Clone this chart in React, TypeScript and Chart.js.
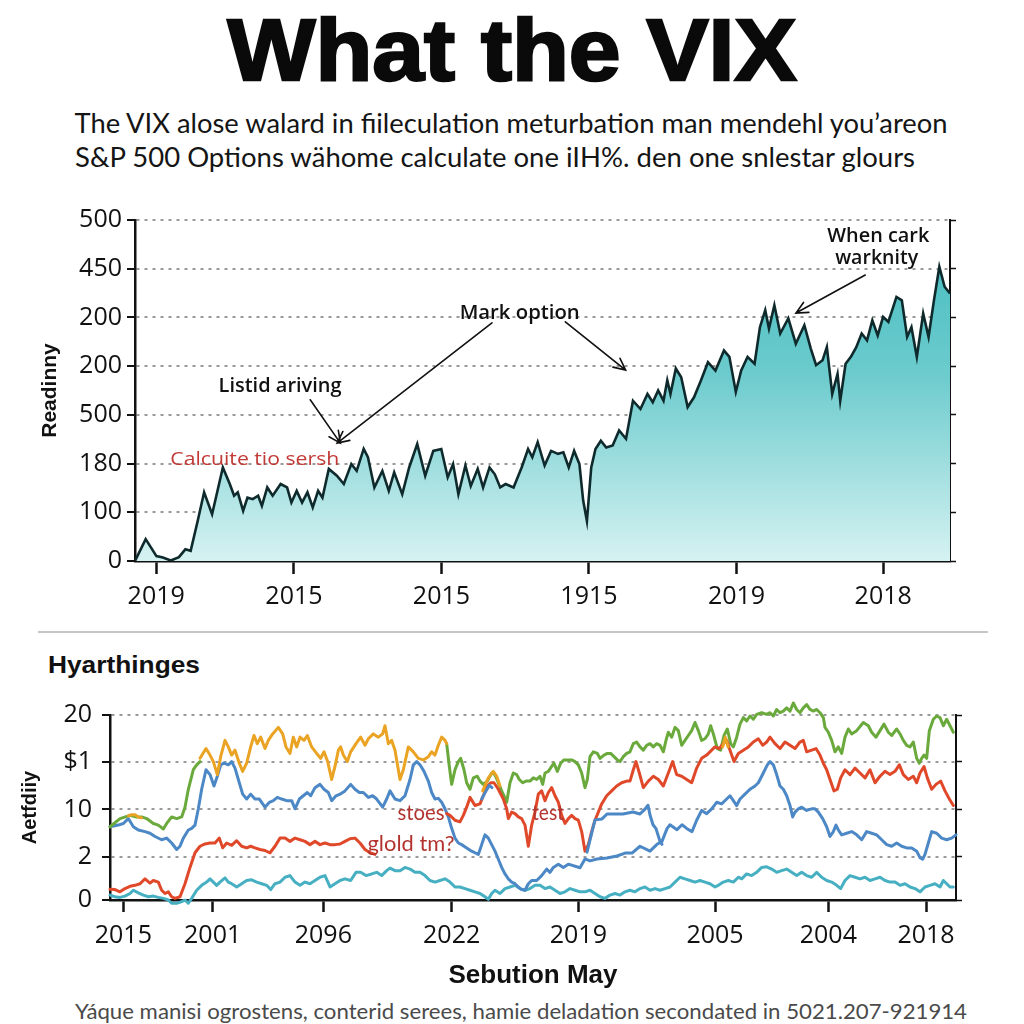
import React, { useEffect, useRef } from "react";
import { Chart, registerables } from "chart.js";

Chart.register(...registerables);

type Pt = [number, number | null];

// ---------------- Top chart (VIX area) ----------------
const vixTime = [
  0, 1.31, 2.63, 3.42, 4.4, 5.39, 6.18, 6.83, 7.69, 8.48,
  9.46, 10.78, 11.63, 12.16, 12.61, 13.27, 13.8, 14.45, 15.11, 15.57,
  16.23, 16.89, 17.87, 18.66, 19.19, 19.84, 20.5, 21.16, 21.81, 22.47,
  23.0, 23.78, 24.77, 25.62, 26.54, 27.2, 28.06, 28.58, 29.37, 30.35,
  31.14, 31.8, 32.79, 33.64, 34.63, 35.61, 36.6, 37.58, 38.37, 39.03,
  39.68, 40.54, 41.2, 42.05, 42.71, 43.5, 44.15, 44.81, 45.47, 46.45,
  47.44, 48.23, 48.75, 49.41, 50.26, 51.05, 51.91, 52.56, 53.22, 53.88,
  54.53, 54.99, 55.45, 55.98, 56.5, 57.16, 57.82, 58.61, 59.4, 60.25,
  61.1, 62.02, 62.88, 63.53, 64.19, 64.85, 65.31, 65.7, 66.36, 67.02,
  67.81, 68.59, 69.45, 70.3, 71.22, 72.27, 72.93, 73.72, 74.38, 75.16,
  76.02, 76.68, 77.33, 77.79, 78.45, 79.17, 80.16, 81.08, 82.13, 82.92,
  83.57, 84.36, 84.89, 85.55, 86.2, 86.53, 87.19, 87.84, 88.5, 89.16,
  89.82, 90.47, 91.13, 91.79, 92.44, 93.43, 94.09, 94.74, 95.27, 95.93,
  96.71, 97.37, 98.03, 98.69, 99.34, 100,
];
const vixLevel = [
  0, 0.45, 0.1, 0.07, 0.01, 0.08, 0.24, 0.21, 0.82, 1.41,
  0.96, 1.92, 1.58, 1.34, 1.41, 1.03, 1.3, 1.27, 1.34, 1.13,
  1.51, 1.34, 1.58, 1.51, 1.2, 1.44, 1.2, 1.41, 1.1, 1.44,
  1.3, 1.89, 1.75, 1.58, 1.99, 1.85, 2.3, 2.13, 1.51, 1.85,
  1.44, 1.82, 1.37, 1.92, 2.4, 1.75, 2.26, 2.3, 1.72, 1.99,
  1.37, 1.96, 1.54, 1.89, 1.51, 1.92, 1.78, 1.51, 1.58, 1.51,
  1.92, 2.3, 2.13, 2.44, 1.96, 2.26, 2.2, 2.23, 1.92, 2.26,
  1.99, 1.24, 0.82, 1.92, 2.3, 2.47, 2.33, 2.37, 2.68, 2.51,
  3.29, 3.12, 3.43, 3.26, 3.5, 3.29, 3.71, 3.43, 3.95, 3.77,
  3.16, 3.36, 3.71, 4.08, 3.91, 4.32, 4.19, 3.47, 3.91, 4.19,
  4.05, 4.8, 5.15, 4.77, 5.25, 4.67, 4.98, 4.46, 4.84, 4.36,
  4.02, 4.12, 4.39, 3.43, 3.84, 3.29, 4.05, 4.19, 4.39, 4.67,
  4.53, 4.94, 4.63, 5.01, 4.91, 5.42, 5.35, 4.6, 4.8, 4.19,
  5.08, 4.6, 5.35, 6.04, 5.63, 5.49,
];
const topXTickValues = [2.6, 19.5, 37.6, 55.7, 73.8, 91.8];
const topXTickLabels = ["2019", "2015", "2015", "1915", "2019", "2018"];
const topYTickValues = [0, 1, 2, 3, 4, 5, 6, 7];
const topYTickLabels = ["0", "100", "180", "500", "200", "200", "450", "500"];

const topNotes = [
  { text: "When cark", x: 91.2, y: 6.55, w: 102, kind: "dark" },
  { text: "warknity", x: 91.0, y: 6.1, w: 83, kind: "dark" },
  { text: "Mark option", x: 47.2, y: 4.97, w: 120, kind: "dark" },
  { text: "Listid ariving", x: 17.8, y: 3.47, w: 123, kind: "dark" },
  { text: "Calcuite tio sersh", x: 14.7, y: 1.97, w: 169, kind: "red" },
];
const topArrows = [
  { from: [89.6, 5.87], to: [81.1, 5.09] },
  { from: [43.8, 4.89], to: [24.8, 2.42] },
  { from: [52.8, 4.91], to: [60.2, 3.92] },
  { from: [21.5, 3.31], to: [25.2, 2.42] },
];

// ---------------- Bottom chart (multi-line) ----------------
const greenLine: Pt[] = [
  [330, 225], [360, 250], [390, 260], [410, 255], [425, 255], [440, 250], [460, 235], [475, 230], [490, 218], [500, 235],
  [515, 255], [530, 250], [545, 255], [555, 285], [565, 340], [580, 400], [590, 415], [600, 425], [610, null],
  [1340, 480], [1348, 410], [1355, 355], [1365, 400], [1375, 425], [1382, 435], [1392, 400], [1400, 360], [1410, 340], [1420, 375],
  [1432, 380], [1440, 365], [1450, 355], [1462, 365], [1475, 390], [1485, 385], [1495, 360], [1505, 335], [1512, 320], [1520, 300],
  [1530, 360], [1540, 390], [1550, 385], [1558, 370], [1568, 360], [1578, 365], [1590, 365], [1600, 375], [1610, 370], [1620, 380],
  [1628, 355], [1635, 390], [1645, 395], [1655, 410], [1662, 420], [1672, 395], [1682, 420], [1692, 430], [1705, 430], [1715, 430],
  [1725, 425], [1735, 415], [1745, 390], [1755, 345], [1762, 370], [1770, 440], [1780, 455], [1792, 450], [1800, 435], [1812, 445],
  [1822, 450], [1832, 450], [1842, 440], [1852, 430], [1860, 425], [1870, 440], [1880, 450],
  [1890, 455], [1900, 480], [1910, 485], [1920, 470], [1930, 460], [1940, 475], [1950, 480], [1960, 470], [1970, 480], [1980, 475],
  [1990, 455], [1998, 490], [2005, 515], [2015, 500], [2025, 530], [2035, 520], [2045, 475], [2055, 490], [2065, 505], [2075, 520],
  [2085, 545], [2095, 520], [2105, 490], [2115, 495], [2125, 510], [2132, 535], [2140, 510], [2152, 465], [2162, 460], [2172, 505],
  [2182, 525], [2192, 480], [2200, 470], [2210, 500], [2220, 540], [2230, 560], [2240, 550], [2250, 565], [2260, 555], [2270, 570],
  [2285, 575], [2300, 570], [2310, 575], [2320, 565], [2330, 585], [2340, 575], [2350, 580], [2360, 590], [2370, 580], [2380, 605],
  [2390, 585], [2400, 575], [2410, 590], [2420, 600], [2430, 585], [2440, 580], [2450, 585], [2460, 575], [2470, 560], [2475, 530],
  [2485, 515], [2495, 490], [2505, 455], [2515, 470], [2525, 450], [2535, 500], [2545, 525], [2555, 510], [2570, 520], [2590, 545],
  [2605, 535], [2615, 515], [2628, 500], [2640, 520], [2652, 540], [2665, 515], [2675, 505], [2690, 525], [2700, 510], [2710, 490],
  [2720, 475], [2730, 470], [2740, 485], [2750, 435], [2758, 420], [2765, 435], [2772, 445], [2780, 435], [2788, 520], [2800, 555],
  [2810, 565], [2820, 560], [2830, 535], [2840, 555], [2850, 535], [2860, 515],
];
const orangeLine: Pt[] = [
  [385, 258], [395, 262], [405, 262], [415, 255], [425, 252], [432, null],
  [600, 435], [618, 465], [630, 445], [640, 425], [652, 385], [662, 440], [675, 490], [685, 470], [695, 445], [705, 460],
  [718, 420], [728, 395], [740, 420], [752, 470], [762, 505], [772, 480], [782, 500], [795, 465], [805, 490], [818, 510],
  [835, 530], [848, 510], [858, 470], [870, 450], [880, 500], [890, 470], [900, 500], [912, 490], [922, 505], [935, 470],
  [950, 450], [962, 435], [972, 455], [983, 425], [995, 370], [1005, 410], [1015, 460], [1022, 470], [1030, 445], [1042, 425],
  [1052, 455], [1068, 480], [1082, 500], [1095, 475], [1105, 495], [1120, 510], [1135, 500], [1148, 510], [1155, 535], [1165, 480],
  [1175, 490], [1185, 460], [1195, 400], [1200, 370], [1210, 400], [1225, 470], [1240, 455], [1255, 435], [1270, 430], [1285, 440],
  [1295, 455], [1305, 445], [1315, 475], [1325, 500], [1335, 490], [1340, 480], [1345, null],
  [1448, 335], [1465, 375], [1480, 395], [1490, 380], [1500, 350], [1505, null],
  [2168, 470], [2176, 500], [2184, 470],
];
const blueLine: Pt[] = [
  [330, 225], [355, 230], [370, 235], [385, 250], [400, 225], [415, 215], [435, 210], [450, 205], [465, 195], [485, 185],
  [500, 190], [515, 175], [530, 155], [540, 165], [550, 190], [565, 215], [575, 220], [585, 230], [595, 280], [605, 340],
  [618, 400], [630, 385], [642, 350], [652, 380], [662, 415], [672, 420], [685, 415], [695, 425], [705, 405], [715, 370],
  [728, 325], [740, 310], [752, 325], [765, 310], [778, 310], [795, 285], [808, 300], [820, 305], [832, 315], [845, 310],
  [860, 305], [875, 305], [885, 280], [898, 310], [910, 320], [922, 330], [932, 320], [945, 345], [960, 355], [972, 340],
  [985, 330], [995, 305], [1008, 320], [1020, 325], [1035, 335], [1052, 355], [1065, 340], [1078, 330], [1090, 330], [1105, 315],
  [1118, 320], [1130, 310], [1148, 285], [1160, 310], [1170, 335], [1185, 310], [1200, 305], [1215, 320], [1230, 370], [1240, 415],
  [1250, 425], [1260, 415], [1272, 395], [1285, 365], [1295, 330], [1305, 310], [1315, 312], [1325, 300], [1335, 280], [1345, 255],
  [1355, 220], [1365, 190], [1375, 175], [1385, 170], [1400, 160], [1415, 150], [1425, 145], [1435, 140], [1445, 170], [1455, 200],
  [1465, 190], [1475, 170], [1485, 150], [1495, 125], [1505, 100], [1515, 80], [1525, 65], [1535, 55], [1545, 50], [1555, 40],
  [1565, 32], [1575, 30], [1585, 50], [1595, 60], [1610, 60], [1625, 75], [1640, 95], [1650, 85], [1660, 100], [1675, 110],
  [1690, 100], [1705, 110], [1740, 99], [1755, 126], [1770, 120], [1791, 126], [1821, 129], [1851, 135], [1875, 144], [1896, 144],
  [1920, 165], [1950, 150], [1971, 171], [1986, 180], [2001, 219], [2010, 231], [2031, 216], [2046, 231], [2061, 219], [2076, 210],
  [2090, 245], [2105, 275], [2120, 265], [2135, 280], [2150, 300], [2165, 295], [2180, 310], [2190, 320], [2200, 305], [2210, 290],
  [2220, 310], [2235, 325], [2250, 340], [2265, 350], [2275, 360], [2290, 390], [2302, 415], [2310, 425], [2320, 415], [2330, 385],
  [2340, 350], [2350, 340], [2360, 320], [2370, 290], [2378, 255], [2385, 270], [2395, 280], [2405, 285], [2420, 275], [2435, 280],
  [2445, 280], [2455, 270], [2468, 250], [2480, 225], [2490, 195], [2500, 210], [2508, 230], [2515, 215], [2525, 200], [2540, 205],
  [2555, 210], [2570, 200], [2585, 185], [2600, 210], [2615, 205], [2630, 200], [2645, 185], [2660, 170], [2675, 165], [2690, 175],
  [2705, 165], [2720, 160], [2735, 160], [2750, 150], [2760, 130], [2768, 125], [2775, 140], [2785, 175], [2795, 210], [2810, 205],
  [2825, 190], [2840, 185], [2855, 190], [2868, 200],
];
const blueForkLine: Pt[] = [
  [1445, 310], [1458, 335], [1468, 352], [1476, 345], [1480, null],
  [1761, 147], [1785, 246], [1806, 249], [1821, 264], [1839, 264], [1869, 264], [1899, 270], [1920, 264], [1935, 279], [1944, 291],
  [1950, 261], [1959, 231], [1968, 219], [1980, 180], [1986, 171],
];
const redLine: Pt[] = [
  [330, 33], [345, 32], [360, 25], [375, 35], [390, 42], [405, 45], [420, 50], [435, 65], [450, 52], [460, 60],
  [475, 55], [485, 30], [495, 20], [505, 25], [515, 10], [525, 5], [540, 10], [555, 50], [570, 100], [585, 145],
  [600, 165], [615, 172], [630, 175], [645, 175], [658, 190], [668, 160], [680, 175], [695, 168], [710, 182], [725, 165],
  [740, 160], [752, 165], [765, 160], [780, 155], [795, 152], [810, 145], [825, 165], [840, 190], [855, 190], [870, 180],
  [885, 190], [900, 185], [915, 180], [930, 170], [945, 180], [960, 170], [975, 175], [990, 170], [1005, 170], [1020, 172],
  [1035, 180], [1050, 188], [1065, 190], [1080, 175], [1095, 155], [1110, 145], [1125, 140], [1130, null],
  [1340, 265], [1350, 260], [1365, 245], [1380, 240], [1390, 260], [1400, 285], [1410, 315], [1425, 290], [1440, 295], [1450, 320],
  [1462, 350], [1472, 360], [1482, 360], [1492, 345], [1500, 330], [1510, 310], [1520, 280], [1525, 250], [1535, 270], [1545, 265],
  [1555, 255], [1565, 250], [1575, 230], [1585, 165], [1595, 230], [1605, 270], [1615, 325], [1625, 335], [1635, 305], [1645, 330],
  [1655, 345], [1665, 320], [1675, 300], [1685, 260], [1695, 235], [1705, 250], [1715, 260], [1725, 250], [1735, 245], [1745, 210],
  [1755, 150], [1765, 170], [1775, 210], [1785, 245], [1795, 270], [1805, 295], [1820, 320], [1835, 335], [1850, 350], [1865, 360],
  [1880, 365], [1890, 365], [1900, 400], [1908, 425], [1918, 390], [1930, 345], [1945, 365], [1960, 380], [1975, 370], [1990, 350],
  [2005, 390], [2018, 425], [2030, 385], [2045, 380], [2060, 370], [2075, 360], [2090, 405], [2105, 435], [2120, 445], [2135, 460],
  [2145, 470], [2158, 465], [2170, 480], [2180, 490], [2190, 460], [2202, 425], [2215, 450], [2230, 460], [2245, 470], [2260, 485],
  [2275, 495], [2288, 475], [2300, 485], [2310, 500], [2325, 480], [2340, 465], [2355, 485], [2370, 475], [2385, 465], [2400, 485],
  [2410, 490], [2420, 455], [2435, 460], [2448, 465], [2460, 445], [2470, 420], [2480, 400], [2490, 370], [2502, 335], [2512, 340],
  [2522, 375], [2535, 400], [2550, 385], [2565, 405], [2580, 390], [2595, 375], [2610, 400], [2625, 360], [2640, 380], [2655, 395],
  [2670, 385], [2685, 395], [2698, 415], [2710, 385], [2725, 370], [2740, 380], [2750, 360], [2760, 390], [2772, 410], [2782, 375],
  [2795, 340], [2808, 355], [2822, 365], [2835, 335], [2848, 310], [2860, 290],
];
const cyanLine: Pt[] = [
  [330, 15], [345, 10], [360, 8], [375, 12], [390, 20], [400, 30], [415, 22], [430, 15], [445, 10], [460, 12],
  [475, 8], [490, 5], [505, 0], [515, -10], [530, -10], [545, -5], [555, 0], [565, -10], [575, 5], [590, 30],
  [605, 45], [620, 55], [630, 65], [640, 55], [650, 45], [660, 55], [675, 68], [685, 55], [695, 50], [710, 40],
  [725, 50], [740, 60], [755, 62], [770, 55], [785, 50], [800, 45], [812, 32], [825, 50], [840, 55], [855, 70],
  [870, 75], [885, 55], [900, 45], [915, 55], [930, 50], [945, 60], [960, 70], [975, 75], [990, 40], [1005, 50],
  [1020, 60], [1035, 65], [1052, 60], [1068, 85], [1082, 85], [1098, 75], [1115, 80], [1130, 85], [1145, 75], [1160, 90],
  [1170, 98], [1185, 90], [1200, 90], [1215, 100], [1230, 95], [1245, 85], [1260, 85], [1275, 75], [1290, 60], [1305, 55],
  [1320, 60], [1335, 65], [1350, 55], [1365, 40], [1380, 40], [1395, 35], [1410, 30], [1425, 25], [1440, 20], [1455, 10],
  [1465, 2], [1475, 20], [1485, 30], [1500, 20], [1515, 35], [1530, 40], [1545, 45], [1560, 35], [1575, 30], [1590, 35],
  [1605, 45], [1620, 45], [1635, 35], [1650, 40], [1665, 30], [1680, 20], [1695, 25], [1710, 35], [1725, 30], [1740, 25],
  [1755, 25], [1770, 30], [1785, 20], [1800, 10], [1815, 5], [1830, 15], [1845, 20], [1860, 15], [1875, 25], [1890, 30],
  [1905, 25], [1920, 35], [1935, 40], [1950, 30], [1965, 35], [1980, 30], [1995, 35], [2010, 40], [2025, 55], [2040, 70],
  [2055, 65], [2070, 60], [2085, 55], [2100, 60], [2115, 55], [2130, 50], [2145, 40], [2155, 45], [2170, 55], [2185, 60],
  [2200, 55], [2215, 70], [2225, 65], [2240, 80], [2255, 75], [2270, 85], [2285, 100], [2300, 102], [2315, 95], [2330, 85],
  [2345, 90], [2360, 95], [2375, 85], [2390, 75], [2405, 85], [2420, 75], [2435, 70], [2450, 85], [2465, 70], [2480, 60],
  [2495, 55], [2510, 45], [2522, 35], [2535, 60], [2550, 75], [2565, 70], [2580, 65], [2595, 70], [2610, 60], [2625, 65],
  [2640, 70], [2655, 60], [2670, 55], [2685, 55], [2700, 45], [2715, 50], [2730, 40], [2745, 35], [2760, 25], [2775, 40],
  [2790, 45], [2805, 50], [2820, 40], [2830, 60], [2840, 50], [2850, 40], [2860, 40],
];
const bottomXTickValues = [370, 638, 970, 1355, 1735, 2145, 2485, 2778];
const bottomXTickLabels = ["2015", "2001", "2096", "2022", "2019", "2005", "2004", "2018"];
const bottomYTickValues = [0, 133, 278, 425, 568];
const bottomYTickLabels = ["0", "2", "10", "$1", "20"];
const bottomNotes = [
  { text: "stoes", x: 1263, y: 246, w: 47 },
  { text: "test", x: 1644, y: 246, w: 32 },
  { text: "glold tm?", x: 1233, y: 150, w: 87 },
];

// ---------------- helpers ----------------
function drawFitText(ctx: CanvasRenderingContext2D, text: string, x: number, y: number, width: number, font: string, color: string) {
  ctx.save();
  ctx.font = font;
  ctx.fillStyle = color;
  ctx.textAlign = "center";
  ctx.textBaseline = "alphabetic";
  const w = ctx.measureText(text).width || 1;
  ctx.translate(x, y);
  ctx.scale(width / w, 1);
  ctx.fillText(text, 0, 0);
  ctx.restore();
}

function drawArrow(ctx: CanvasRenderingContext2D, x1: number, y1: number, x2: number, y2: number) {
  const ang = Math.atan2(y2 - y1, x2 - x1);
  const head = 13;
  const spread = 0.45;
  ctx.save();
  ctx.strokeStyle = "#111";
  ctx.lineWidth = 1.6;
  ctx.lineCap = "round";
  ctx.beginPath();
  ctx.moveTo(x1, y1);
  ctx.lineTo(x2, y2);
  ctx.moveTo(x2 - head * Math.cos(ang - spread), y2 - head * Math.sin(ang - spread));
  ctx.lineTo(x2, y2);
  ctx.lineTo(x2 - head * Math.cos(ang + spread), y2 - head * Math.sin(ang + spread));
  ctx.stroke();
  ctx.restore();
}

const toXY = (pts: Pt[]) => pts.map(([x, y]) => ({ x, y }));

const TICK_FONT = { family: "'Open Sans', 'DejaVu Sans', sans-serif", size: 25, weight: "500" };
const INK = "#111111";
const GRID = "#9a9a9a";

function TopChart() {
  const ref = useRef<HTMLCanvasElement>(null);
  useEffect(() => {
    if (!ref.current) return;
    const notesPlugin = {
      id: "topNotes",
      afterDatasetsDraw(chart: any) {
        const { ctx, scales } = chart;
        const sx = scales.x, sy = scales.y;
        topArrows.forEach((a) => {
          drawArrow(ctx, sx.getPixelForValue(a.from[0]), sy.getPixelForValue(a.from[1]), sx.getPixelForValue(a.to[0]), sy.getPixelForValue(a.to[1]));
        });
        topNotes.forEach((n) => {
          const red = n.kind === "red";
          drawFitText(
            ctx, n.text, sx.getPixelForValue(n.x), sy.getPixelForValue(n.y), n.w,
            red ? "400 19px 'Open Sans'" : "600 19px 'Open Sans'",
            red ? "#c23a36" : "#111"
          );
        });
      },
    };
    const chart = new Chart(ref.current, {
      type: "line",
      data: {
        datasets: [
          {
            data: vixTime.map((t, i) => ({ x: t, y: vixLevel[i] })),
            borderColor: "#0f2a2c",
            borderWidth: 2.6,
            pointRadius: 0,
            tension: 0,
            fill: "origin",
            backgroundColor: (c: any) => {
              const area = c.chart.chartArea;
              if (!area) return "#7fd0d2";
              const g = c.chart.ctx.createLinearGradient(0, area.top, 0, area.bottom);
              g.addColorStop(0, "#42bbbf");
              g.addColorStop(0.45, "#6ccbcd");
              g.addColorStop(1, "#d6f2f2");
              return g;
            },
          },
        ],
      },
      options: {
        animation: false,
        responsive: false,
        maintainAspectRatio: false,
        layout: { padding: { left: 38, right: 66, top: 20, bottom: 0 } },
        plugins: { legend: { display: false }, tooltip: { enabled: false } },
        scales: {
          x: {
            type: "linear",
            min: 0,
            max: 100,
            afterBuildTicks: (s: any) => { s.ticks = topXTickValues.map((v) => ({ value: v })); },
            afterFit: (s: any) => { s.height = 59; },
            ticks: {
              autoSkip: false, maxRotation: 0, padding: 8, color: INK, font: TICK_FONT,
              callback: (_v: any, i: number) => topXTickLabels[i],
            },
            grid: { drawOnChartArea: false, drawTicks: true, tickLength: 13, tickColor: INK, tickWidth: 2.5 },
            border: { display: true, color: INK, width: 2.5 },
          },
          y: {
            type: "linear",
            min: 0,
            max: 7,
            afterBuildTicks: (s: any) => { s.ticks = topYTickValues.map((v) => ({ value: v })); },
            afterFit: (s: any) => { s.width = 97; },
            ticks: {
              autoSkip: false, padding: 5, color: INK, font: TICK_FONT,
              callback: (_v: any, i: number) => topYTickLabels[i],
            },
            grid: { color: GRID, lineWidth: 2, tickLength: 8, tickColor: INK, tickWidth: 2, tickBorderDash: [] },
            border: { display: true, color: INK, width: 2.5, dash: [3, 5] },
            title: {
              display: true, text: "Readinny", color: INK, padding: 0,
              font: { family: "'Liberation Sans', Arial, sans-serif", size: 21, weight: "bold" },
            },
          },
          y2: {
            type: "linear",
            position: "right",
            min: 0,
            max: 7,
            afterBuildTicks: (s: any) => { s.ticks = topYTickValues.map((v) => ({ value: v })); },
            afterFit: (s: any) => { s.width = 8; },
            ticks: { display: false },
            grid: { drawOnChartArea: false, tickLength: 6, tickColor: INK, tickWidth: 1.5 },
            border: { display: true, color: INK, width: 2 },
          },
        },
      } as any,
      plugins: [notesPlugin],
    });
    return () => chart.destroy();
  }, []);
  return <canvas ref={ref} width={1024} height={420} style={{ position: "absolute", left: 0, top: 200, width: 1024, height: 420 }} />;
}

function BottomChart() {
  const ref = useRef<HTMLCanvasElement>(null);
  useEffect(() => {
    if (!ref.current) return;
    const notesPlugin = {
      id: "bottomNotes",
      afterDatasetsDraw(chart: any) {
        const { ctx, scales } = chart;
        bottomNotes.forEach((n) => {
          drawFitText(ctx, n.text, scales.x.getPixelForValue(n.x), scales.y.getPixelForValue(n.y), n.w, "400 21px Lato, 'Open Sans', sans-serif", "#b3332f");
        });
      },
    };
    const line = (data: Pt[], color: string) => ({
      data: toXY(data),
      borderColor: color,
      borderWidth: 3,
      pointRadius: 0,
      tension: 0,
      fill: false,
      spanGaps: false,
      clip: false,
      borderJoinStyle: "round",
      borderCapStyle: "round",
    });
    const chart = new Chart(ref.current, {
      type: "line",
      data: {
        datasets: [
          line(orangeLine, "#eba323"),
          line(blueForkLine, "#4c88c6"),
          line(redLine, "#e0482a"),
          line(greenLine, "#6aa93b"),
          line(blueLine, "#4c88c6"),
          line(cyanLine, "#46afc2"),
        ] as any,
      },
      options: {
        animation: false,
        responsive: false,
        maintainAspectRatio: false,
        layout: { padding: { left: 18, right: 60, top: 21, bottom: 0 } },
        plugins: { legend: { display: false }, tooltip: { enabled: false } },
        scales: {
          x: {
            type: "linear",
            min: 330,
            max: 2868,
            afterBuildTicks: (s: any) => { s.ticks = bottomXTickValues.map((v) => ({ value: v })); },
            afterFit: (s: any) => { s.height = 100; },
            ticks: {
              autoSkip: false, maxRotation: 0, padding: 9, color: INK, font: TICK_FONT,
              callback: (_v: any, i: number) => bottomXTickLabels[i],
            },
            grid: { drawOnChartArea: false, drawTicks: true, tickLength: 12, tickColor: INK, tickWidth: 2.5 },
            border: { display: true, color: INK, width: 2.5 },
            title: {
              display: true, text: "Sebution May", color: INK, padding: { top: 0, bottom: 9 },
              font: { family: "'Liberation Sans', Arial, sans-serif", size: 26, weight: "bold" },
            },
          },
          y: {
            type: "linear",
            min: 0,
            max: 568,
            afterBuildTicks: (s: any) => { s.ticks = bottomYTickValues.map((v) => ({ value: v })); },
            afterFit: (s: any) => { s.width = 92; },
            ticks: {
              autoSkip: false, padding: 10, color: INK, font: TICK_FONT,
              callback: (_v: any, i: number) => bottomYTickLabels[i],
            },
            grid: { color: GRID, lineWidth: 2, tickLength: 8, tickColor: INK, tickWidth: 2, tickBorderDash: [] },
            border: { display: true, color: INK, width: 2.5, dash: [3, 5] },
            title: {
              display: true, text: "Aetfdiiy", color: INK, padding: 0,
              font: { family: "'Liberation Sans', Arial, sans-serif", size: 20, weight: "bold" },
            },
          },
          y2: {
            type: "linear",
            position: "right",
            min: 0,
            max: 568,
            afterBuildTicks: (s: any) => { s.ticks = bottomYTickValues.map((v) => ({ value: v })); },
            afterFit: (s: any) => { s.width = 8; },
            ticks: { display: false },
            grid: { drawOnChartArea: false, tickLength: 6, tickColor: INK, tickWidth: 1.5 },
            border: { display: true, color: INK, width: 2 },
          },
        },
      } as any,
      plugins: [notesPlugin],
    });
    return () => chart.destroy();
  }, []);
  return <canvas ref={ref} width={1024} height={310} style={{ position: "absolute", left: 0, top: 690, width: 1024, height: 310 }} />;
}

export default function App() {
  return (
    <div style={{ position: "absolute", left: 0, top: 0, width: 1024, height: 1024, background: "#ffffff", overflow: "hidden" }}>
      <svg width={1024} height={1024} style={{ position: "absolute", left: 0, top: 0 }}>
        <text x={512} y={80} textAnchor="middle" textLength={569} lengthAdjust="spacingAndGlyphs"
          fontFamily="'Liberation Sans', Arial, sans-serif" fontWeight={700} fontSize={88} fill="#0a0a0a" stroke="#0a0a0a" strokeWidth={2.5}>
          What the VIX
        </text>
        <text x={511} y={133} textAnchor="middle" textLength={873} lengthAdjust="spacingAndGlyphs"
          fontFamily="Lato, 'Open Sans', sans-serif" fontSize={27} fill="#151515">
          The VIX alose walard in fiileculation meturbation man mendehl you’areon
        </text>
        <text x={495} y={167} textAnchor="middle" textLength={840} lengthAdjust="spacingAndGlyphs"
          fontFamily="Lato, 'Open Sans', sans-serif" fontSize={27} fill="#151515">
          S&amp;P 500 Options wähome calculate one iIH%. den one snlestar glours
        </text>
        <line x1={38} y1={632} x2={988} y2={632} stroke="#b5b5b5" strokeWidth={1.5} />
        <text x={48} y={673} textLength={152} lengthAdjust="spacingAndGlyphs"
          fontFamily="'Liberation Sans', Arial, sans-serif" fontWeight={700} fontSize={23} fill="#111">
          Hyarthinges
        </text>
        <text x={521} y={1019} textAnchor="middle" textLength={892} lengthAdjust="spacingAndGlyphs"
          fontFamily="Lato, 'Open Sans', sans-serif" fontSize={21} fill="#4a4a4a">
          Yáque manisi ogrostens, conterid serees, hamie deladation secondated in 5021.207-921914
        </text>
      </svg>
      <TopChart />
      <BottomChart />
    </div>
  );
}
